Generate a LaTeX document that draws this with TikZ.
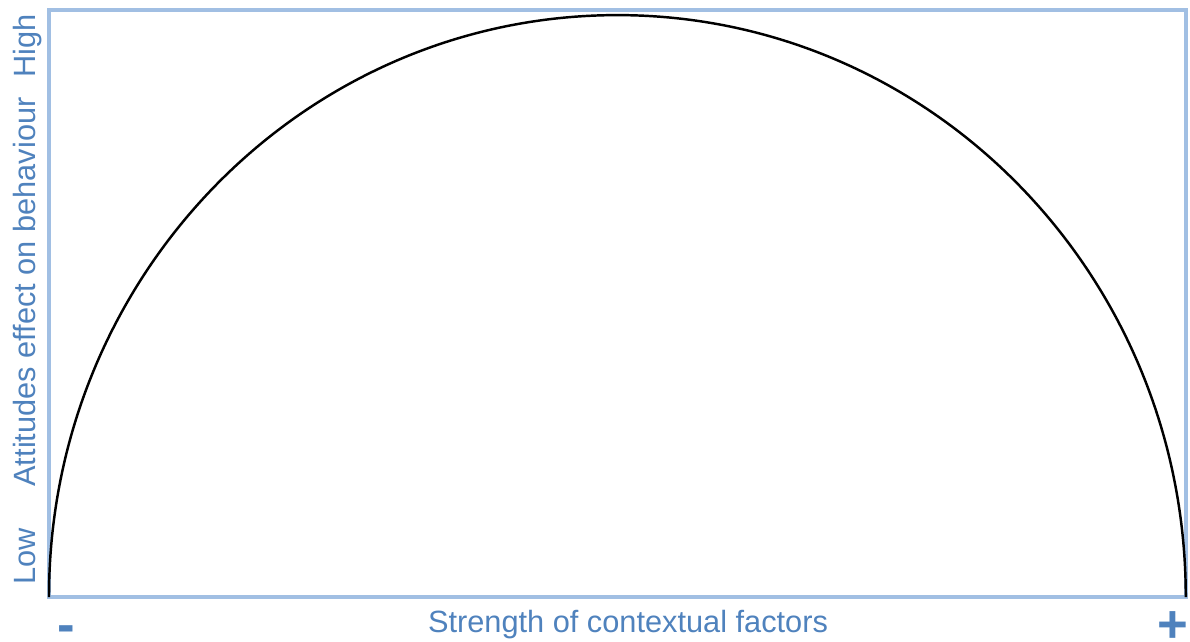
\documentclass[tikz,border=0pt]{standalone}
\usepackage{fontspec}
\setmainfont{Liberation Sans}
\usetikzlibrary{positioning, calc}
\definecolor{FrameBlue}{rgb}{0.63, 0.75, 0.89}
\definecolor{LabelBlue}{rgb}{0.31, 0.51, 0.74}

\begin{document}
\begin{tikzpicture}[
    x=0.02cm, y=-0.02cm,
    frame/.style={draw=FrameBlue, line width=2.1pt},
    curve/.style={draw=black, line width=1.4pt},
    axislabel/.style={text=LabelBlue, font=\fontsize{17.5}{21}\selectfont, inner sep=0pt},
    ylabel/.style={axislabel, rotate=90, anchor=base},
    signlabel/.style={text=LabelBlue, font=\fontsize{30}{30}\selectfont\bfseries,
        inner sep=0pt, text height=0.6em, text depth=0pt, anchor=base},
]
\useasboundingbox (0,0) rectangle (1190,642);

% --- marco del grafico ---
\coordinate (nw) at (49,10);
\coordinate (se) at (1186,597);
\coordinate (sw) at (49,597);
\draw[frame] (nw) rectangle (se);

% --- semi-elipse ---
\draw[curve] (sw) arc[start angle=180, end angle=0, x radius=11.37cm, y radius=11.64cm];

% eje vertical
\node[ylabel] (low) at (35,556) {Low};
\node[ylabel] (att) at (35,292) {Attitudes effect on behaviour};
\node[ylabel] (high) at (35,46) {High};

% eje horizontal
\node[axislabel, anchor=base] (strength) at (628,632) {Strength of contextual factors};
\node[signlabel] (minus) at (66,642) {-};
\node[signlabel] (plus) at (1173,642) {+};

\end{tikzpicture}
\end{document}
